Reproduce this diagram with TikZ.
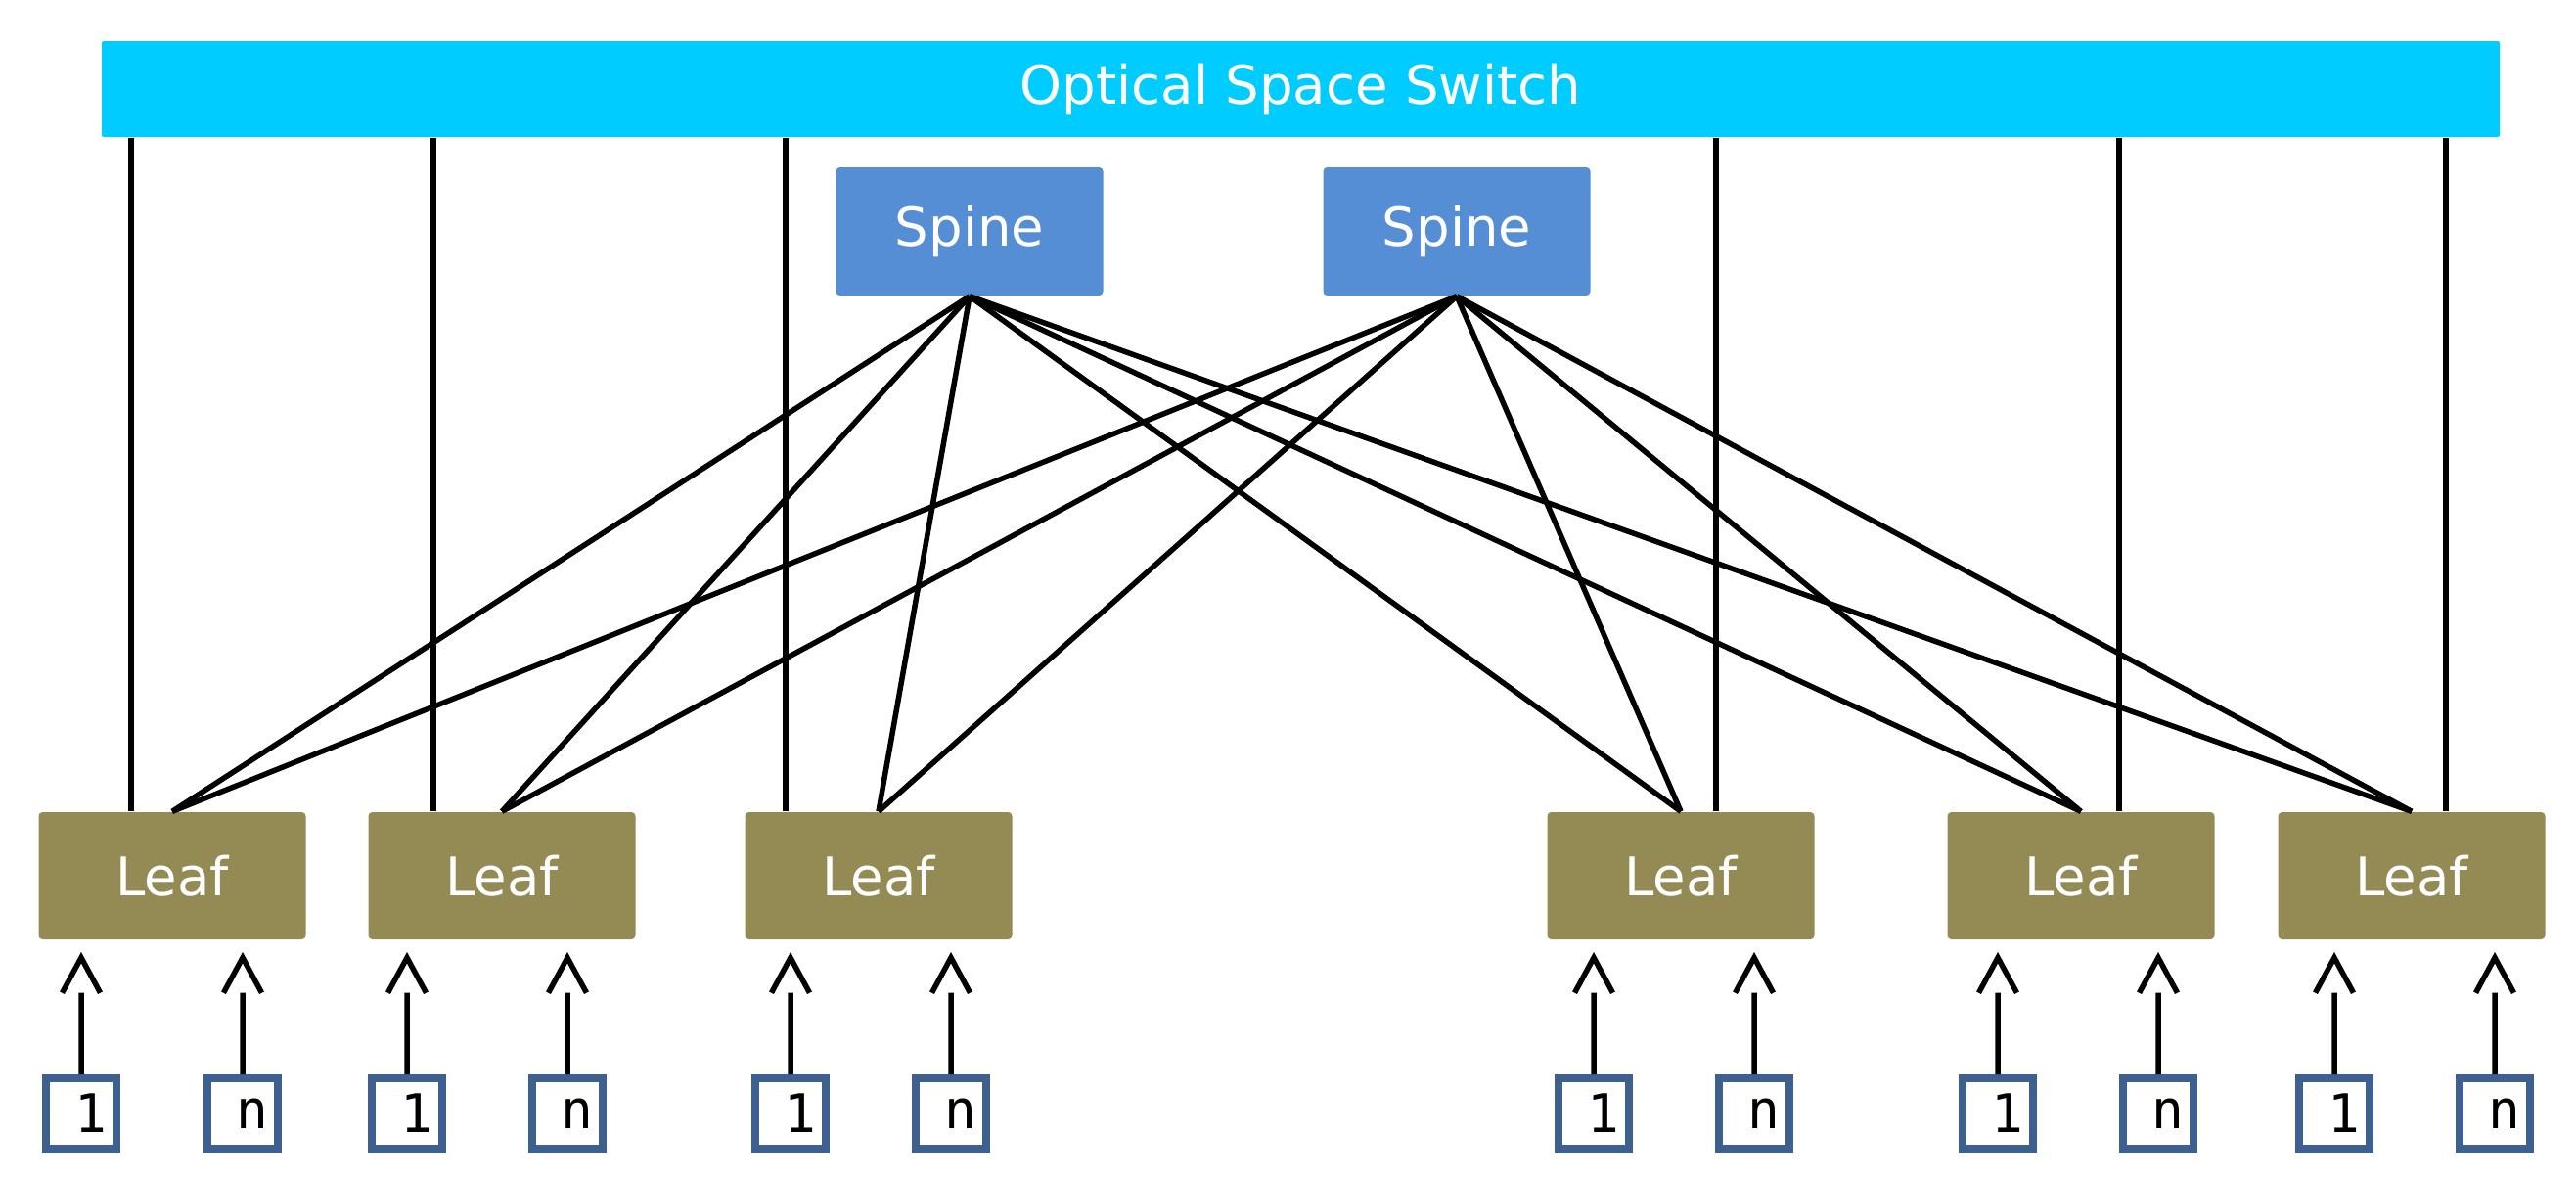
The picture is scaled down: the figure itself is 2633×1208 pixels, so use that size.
\documentclass[tikz,border=0pt]{standalone}
\usepackage{fontspec}
\setmainfont{DejaVu Sans}
\newfontfamily\portfont{DejaVu Sans Mono}
\usepackage{tikz}
\definecolor{SwitchCyan}{RGB}{0,204,255}
\definecolor{SpineBlue}{RGB}{85,142,213}
\definecolor{LeafOlive}{RGB}{148,138,84}
\definecolor{PortEdge}{RGB}{61,96,142}

\begin{document}
\begin{tikzpicture}[
  x=0.1mm, y=-0.1mm,
  switchbar/.style={
    rectangle,
    rounded corners=0.2mm,
    fill=SwitchCyan,
    text=white,
    minimum width=245.1mm,
    minimum height=9.8mm,
    inner sep=0pt,
    font=\fontsize{15.5}{18}\selectfont
  },
  spine/.style={
    rectangle,
    rounded corners=0.4mm,
    fill=SpineBlue,
    text=white,
    minimum width=27.3mm,
    minimum height=13.1mm,
    inner sep=0pt,
    font=\fontsize{15.5}{18}\selectfont
  },
  leaf/.style={
    rectangle,
    rounded corners=0.4mm,
    fill=LeafOlive,
    text=white,
    minimum width=27.3mm,
    minimum height=13mm,
    inner sep=0pt,
    font=\fontsize{15.5}{18}\selectfont
  },
  port/.style={
    rectangle,
    draw=PortEdge,
    line width=0.8mm,
    fill=white,
    minimum width=7.2mm,
    minimum height=7.2mm,
    inner sep=0pt,
    execute at begin node=\hspace*{2mm},
    font=\portfont\fontsize{15.5}{18}\selectfont
  },
  link/.style={line width=0.55mm},
  feed/.style={line width=0.55mm, line join=miter}
]
\useasboundingbox (0,0) rectangle (2633,1208);

\node[switchbar] (sw) at (1329.5,91) {Optical Space Switch};
\node[spine] (s1) at (991,236.5) {Spine};
\node[spine] (s2) at (1489,236.5) {Spine};

\node[leaf] (l1) at (176,895) {Leaf};
\node[leaf] (l2) at (513,895) {Leaf};
\node[leaf] (l3) at (898,895) {Leaf};
\node[leaf] (l4) at (1718,895) {Leaf};
\node[leaf] (l5) at (2127,895) {Leaf};
\node[leaf] (l6) at (2465,895) {Leaf};

\node[port] (p1a) at (83,1138) {1};
\node[port] (p1b) at (248,1138) {n};
\node[port] (p2a) at (416,1138) {1};
\node[port] (p2b) at (580,1138) {n};
\node[port] (p3a) at (808,1138) {1};
\node[port] (p3b) at (972,1138) {n};
\node[port] (p4a) at (1629,1138) {1};
\node[port] (p4b) at (1793,1138) {n};
\node[port] (p5a) at (2042,1138) {1};
\node[port] (p5b) at (2206,1138) {n};
\node[port] (p6a) at (2386,1138) {1};
\node[port] (p6b) at (2550,1138) {n};

% uplinks to the optical switch
\coordinate (u1) at ([xshift=-4.2mm]l1.north);
\coordinate (u2) at ([xshift=-7mm]l2.north);
\coordinate (u3) at ([xshift=-9.5mm]l3.north);
\coordinate (u4) at ([xshift=3.6mm]l4.north);
\coordinate (u5) at ([xshift=3.9mm]l5.north);
\coordinate (u6) at ([xshift=3.5mm]l6.north);
\draw[link] (u1 |- sw.south) -- (u1);
\draw[link] (u2 |- sw.south) -- (u2);
\draw[link] (u3 |- sw.south) -- (u3);
\draw[link] (u4 |- sw.south) -- (u4);
\draw[link] (u5 |- sw.south) -- (u5);
\draw[link] (u6 |- sw.south) -- (u6);

% spine to leaf mesh
\draw[link] (s1.south) -- (l1.north);
\draw[link] (s1.south) -- (l2.north);
\draw[link] (s1.south) -- (l3.north);
\draw[link] (s1.south) -- (l4.north);
\draw[link] (s1.south) -- (l5.north);
\draw[link] (s1.south) -- (l6.north);
\draw[link] (s2.south) -- (l1.north);
\draw[link] (s2.south) -- (l2.north);
\draw[link] (s2.south) -- (l3.north);
\draw[link] (s2.south) -- (l4.north);
\draw[link] (s2.south) -- (l5.north);
\draw[link] (s2.south) -- (l6.north);

% host ports, open head sits above the shaft
\draw[feed] (p1a) -- ([yshift=-5.4mm]p1a |- l1.south) ++(-19.5,0) -- ++(19.5,-36) -- ++(19.5,36);
\draw[feed] (p1b) -- ([yshift=-5.4mm]p1b |- l1.south) ++(-19.5,0) -- ++(19.5,-36) -- ++(19.5,36);
\draw[feed] (p2a) -- ([yshift=-5.4mm]p2a |- l2.south) ++(-19.5,0) -- ++(19.5,-36) -- ++(19.5,36);
\draw[feed] (p2b) -- ([yshift=-5.4mm]p2b |- l2.south) ++(-19.5,0) -- ++(19.5,-36) -- ++(19.5,36);
\draw[feed] (p3a) -- ([yshift=-5.4mm]p3a |- l3.south) ++(-19.5,0) -- ++(19.5,-36) -- ++(19.5,36);
\draw[feed] (p3b) -- ([yshift=-5.4mm]p3b |- l3.south) ++(-19.5,0) -- ++(19.5,-36) -- ++(19.5,36);
\draw[feed] (p4a) -- ([yshift=-5.4mm]p4a |- l4.south) ++(-19.5,0) -- ++(19.5,-36) -- ++(19.5,36);
\draw[feed] (p4b) -- ([yshift=-5.4mm]p4b |- l4.south) ++(-19.5,0) -- ++(19.5,-36) -- ++(19.5,36);
\draw[feed] (p5a) -- ([yshift=-5.4mm]p5a |- l5.south) ++(-19.5,0) -- ++(19.5,-36) -- ++(19.5,36);
\draw[feed] (p5b) -- ([yshift=-5.4mm]p5b |- l5.south) ++(-19.5,0) -- ++(19.5,-36) -- ++(19.5,36);
\draw[feed] (p6a) -- ([yshift=-5.4mm]p6a |- l6.south) ++(-19.5,0) -- ++(19.5,-36) -- ++(19.5,36);
\draw[feed] (p6b) -- ([yshift=-5.4mm]p6b |- l6.south) ++(-19.5,0) -- ++(19.5,-36) -- ++(19.5,36);
\end{tikzpicture}
\end{document}
